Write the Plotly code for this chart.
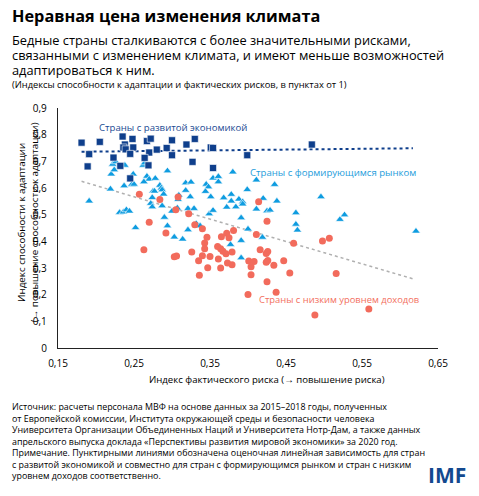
import plotly.graph_objects as go

FONT = "Open Sans"

# advanced economies (squares)
adv_x = [0.181, 0.205, 0.191, 0.189, 0.223, 0.235, 0.238, 0.236, 0.239, 0.248, 0.249,
         0.245, 0.232, 0.245, 0.267, 0.272, 0.270, 0.264, 0.269, 0.280, 0.293, 0.300,
         0.300, 0.319, 0.330, 0.327, 0.351, 0.354, 0.354, 0.399, 0.484]
adv_y = [0.770, 0.773, 0.727, 0.681, 0.714, 0.793, 0.763, 0.752, 0.745, 0.784, 0.752,
         0.728, 0.683, 0.636, 0.776, 0.785, 0.733, 0.713, 0.685, 0.744, 0.750, 0.779,
         0.723, 0.763, 0.784, 0.698, 0.752, 0.750, 0.675, 0.723, 0.763]

# emerging markets (triangles)
em_x = [0.191, 0.220, 0.222, 0.226, 0.224, 0.238, 0.249, 0.237, 0.247, 0.250, 0.219,
        0.231, 0.236, 0.240, 0.244, 0.252, 0.262, 0.264, 0.267, 0.270, 0.278, 0.263,
        0.275, 0.277, 0.272, 0.274, 0.284, 0.286, 0.287, 0.289, 0.274, 0.287, 0.290,
        0.294, 0.294, 0.309, 0.308, 0.318, 0.325, 0.318, 0.324, 0.303, 0.314, 0.321,
        0.321, 0.329, 0.300, 0.307, 0.332, 0.337, 0.345, 0.348, 0.344, 0.351, 0.354,
        0.361, 0.361, 0.368, 0.378, 0.378, 0.372, 0.349, 0.354, 0.384, 0.388, 0.393,
        0.393, 0.399, 0.380, 0.411, 0.435, 0.420, 0.438, 0.411, 0.425, 0.429, 0.391,
        0.400, 0.391, 0.419, 0.391, 0.463, 0.463, 0.465, 0.496, 0.521, 0.527, 0.621,
        0.377]
em_y = [0.551, 0.652, 0.689, 0.698, 0.668, 0.685, 0.652, 0.608, 0.613, 0.614, 0.596,
        0.508, 0.510, 0.518, 0.513, 0.451, 0.685, 0.694, 0.644, 0.633, 0.636, 0.623,
        0.588, 0.588, 0.542, 0.564, 0.610, 0.600, 0.593, 0.577, 0.529, 0.533, 0.490,
        0.458, 0.664, 0.573, 0.557, 0.619, 0.622, 0.591, 0.567, 0.416, 0.408, 0.443,
        0.523, 0.523, 0.513, 0.525, 0.466, 0.458, 0.614, 0.604, 0.587, 0.567, 0.637,
        0.643, 0.623, 0.563, 0.576, 0.551, 0.528, 0.503, 0.516, 0.529, 0.558, 0.548,
        0.540, 0.594, 0.660, 0.630, 0.613, 0.561, 0.551, 0.521, 0.514, 0.517, 0.488,
        0.446, 0.403, 0.415, 0.338, 0.507, 0.464, 0.442, 0.567, 0.482, 0.499, 0.438,
        0.388]

# low-income countries (circles)
lic_x = [0.257, 0.284, 0.308, 0.305, 0.270, 0.292, 0.263, 0.303, 0.306, 0.322, 0.330,
         0.326, 0.335, 0.336, 0.340, 0.346, 0.343, 0.343, 0.340, 0.350, 0.347, 0.365,
         0.360, 0.364, 0.367, 0.371, 0.379, 0.372, 0.375, 0.381, 0.361, 0.364, 0.373,
         0.379, 0.414, 0.425, 0.411, 0.416, 0.424, 0.426, 0.401, 0.408, 0.404, 0.404,
         0.424, 0.426, 0.434, 0.447, 0.455, 0.425, 0.400, 0.437, 0.460, 0.498, 0.507,
         0.516, 0.488, 0.559]
lic_y = [0.577, 0.557, 0.566, 0.518, 0.472, 0.431, 0.368, 0.342, 0.345, 0.503, 0.462,
         0.360, 0.327, 0.273, 0.447, 0.415, 0.394, 0.372, 0.346, 0.343, 0.301, 0.417,
         0.381, 0.372, 0.363, 0.353, 0.360, 0.430, 0.413, 0.441, 0.334, 0.300, 0.319,
         0.312, 0.548, 0.475, 0.426, 0.368, 0.354, 0.362, 0.326, 0.324, 0.305, 0.275,
         0.322, 0.328, 0.310, 0.327, 0.281, 0.248, 0.201, 0.209, 0.393, 0.401, 0.412,
         0.279, 0.124, 0.146]

# fitted lines (end points)
adv_fit_x = [0.181, 0.617]
adv_fit_y = [0.736, 0.749]
other_fit_x = [0.181, 0.620]
other_fit_y = [0.625, 0.257]

x_ticks = [0.15, 0.25, 0.35, 0.45, 0.55, 0.65]
y_ticks = [0, 0.1, 0.2, 0.3, 0.4, 0.5, 0.6, 0.7, 0.8, 0.9]

DARK = "#0f3f8c"
LIGHT = "#0e9ce0"
RED = "#f26b5c"

fig = go.Figure()
fig.add_trace(go.Scatter(x=adv_fit_x, y=adv_fit_y, mode="lines",
                         line=dict(color=DARK, width=2, dash="dot")))
fig.add_trace(go.Scatter(x=other_fit_x, y=other_fit_y, mode="lines",
                         line=dict(color="#b0b0b0", width=1.5, dash="dot")))
fig.add_trace(go.Scatter(x=em_x, y=em_y, mode="markers",
                         marker=dict(symbol="triangle-up", size=7.5, color=LIGHT,
                                     line=dict(color="white", width=0.6))))
fig.add_trace(go.Scatter(x=lic_x, y=lic_y, mode="markers",
                         marker=dict(symbol="circle", size=7, color=RED,
                                     line=dict(width=0))))
fig.add_trace(go.Scatter(x=adv_x, y=adv_y, mode="markers",
                         marker=dict(symbol="square", size=7, color=DARK,
                                     line=dict(color="white", width=0.6))))

# group labels
fig.add_annotation(x=0.201, y=0.827, text="Страны с развитой экономикой", showarrow=False,
                   xanchor="left", yanchor="middle", font=dict(size=9.6, color="#1b4b93"))
fig.add_annotation(x=0.3996, y=0.660, text="Страны с формирующимся рынком", showarrow=False,
                   xanchor="left", yanchor="middle", font=dict(size=9.6, color="#1e9ddb"))
fig.add_annotation(x=0.4123, y=0.182, text="Страны с низким уровнем доходов", showarrow=False,
                   xanchor="left", yanchor="middle", font=dict(size=9.4, color="#f36f60"))

# headings
fig.add_annotation(xref="paper", yref="paper", x=-0.1263, y=1.385, xanchor="left", yanchor="middle",
                   text="<b>Неравная цена изменения климата</b>", showarrow=False,
                   font=dict(size=16.3, color="black"))
sub_lines = ["Бедные страны сталкиваются с более значительными рисками,",
             "связанными с изменением климата, и имеют меньше возможностей",
             "адаптироваться к ним."]
# one text block; the base size sets the line spacing
sub_text = "<br>".join("<span style='font-size:12.8px'>%s</span>" % s for s in sub_lines)
fig.add_annotation(xref="paper", yref="paper", x=-0.1263, y=(348 - 55.3) / 240,
                   xanchor="left", yanchor="middle", align="left", text=sub_text,
                   showarrow=False, font=dict(size=11.6, color="black"))
fig.add_annotation(xref="paper", yref="paper", x=-0.1263, y=(348 - 85) / 240,
                   xanchor="left", yanchor="middle", showarrow=False,
                   text="(Индексы способности к адаптации и фактических рисков, в пунктах от 1)",
                   font=dict(size=9.3, color="black"))

# axis titles
fig.add_annotation(xref="paper", yref="paper", x=0.55, y=-0.133, xanchor="center", yanchor="middle",
                   text="Индекс фактического риска (→ повышение риска)", showarrow=False,
                   font=dict(size=9.6, color="black"))
fig.add_annotation(xref="paper", yref="paper", x=-0.078, y=0.525, xanchor="center", yanchor="middle",
                   textangle=-90, showarrow=False,
                   text="Индекс способности к адаптации<br>(→ повышение способности к адаптации)",
                   font=dict(size=9.8, color="black"))

# footer
footer = ("Источник: расчеты персонала МВФ на основе данных за 2015–2018 годы, полученных<br>"
          "от Европейской комиссии, Института окружающей среды и безопасности человека<br>"
          "Университета Организации Объединенных Наций и Университета Нотр-Дам, а также данных<br>"
          "апрельского выпуска доклада «Перспективы развития мировой экономики» за 2020 год.<br>"
          "Примечание. Пунктирными линиями обозначена оценочная линейная зависимость для стран<br>"
          "с развитой экономикой и совместно для стран с формирующимся рынком и стран с низким<br>"
          "уровнем доходов соответственно.")
fig.add_annotation(xref="paper", yref="paper", x=-0.1263, y=(348 - 440.7) / 240,
                   xanchor="left", yanchor="middle", align="left", showarrow=False,
                   text=footer, font=dict(size=8.9, color="black"))
fig.add_annotation(xref="paper", yref="paper", x=1.025, y=(348 - 474.5) / 240,
                   xanchor="center", yanchor="middle", showarrow=False,
                   text="<b>IMF</b>", font=dict(size=21, color="#13498f"))

fig.update_layout(
    width=479, height=496,
    margin=dict(l=58, r=41, t=108, b=148),
    paper_bgcolor="white", plot_bgcolor="white",
    showlegend=False,
    separators=", ",
    font=dict(family=FONT, size=10, color="black"),
    xaxis=dict(range=[0.15, 0.65], tickvals=x_ticks, tickformat=".2f",
               showgrid=False, zeroline=False, showline=True, linecolor="#222222",
               linewidth=1.3, ticks="", ticklabelstandoff=6,
               tickfont=dict(size=10, color="black")),
    yaxis=dict(range=[0, 0.9], tickvals=y_ticks,
               showgrid=False, zeroline=False, showline=True, linecolor="#222222",
               linewidth=1.3, ticks="", ticklabelstandoff=8,
               tickfont=dict(size=10, color="black")),
)

fig.write_html("out.html", config={"displayModeBar": False},
               post_script="document.body.style.margin='0';")
